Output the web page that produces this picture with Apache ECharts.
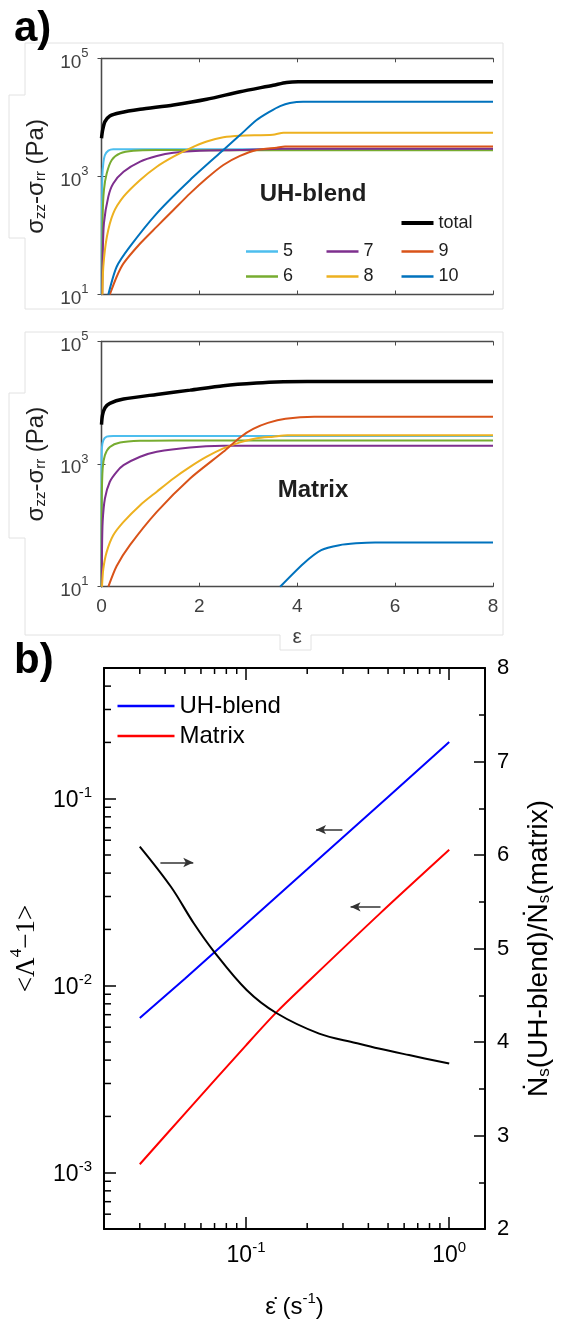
<!DOCTYPE html>
<html><head><meta charset="utf-8">
<script src="https://cdn.jsdelivr.net/npm/echarts@6/dist/echarts.min.js"></script>
<style>html,body{margin:0;padding:0;background:#fff}#c{width:561px;height:1325px}</style>
</head><body><div id="c"></div>
<script>
// ---------- Panel a) top: UH-blend (strain, sigma_zz - sigma_rr in Pa) ----------
const uhS5 = [0, 0.008, 0.017, 0.037, 0.07, 0.14, 0.24, 8];
const uhV5 = [10, 150, 1000, 1660, 2290, 2730, 2880, 2880];
const uhS6 = [0.01, 0.024, 0.05, 0.106, 0.21, 0.38, 0.65, 1.13, 2, 8];
const uhV6 = [10, 210, 590, 1120, 1900, 2460, 2730, 2800, 2780, 2780];
const uhS7 = [0.015, 0.024, 0.05, 0.14, 0.24, 0.45, 0.79, 1.13, 1.47, 2.01, 2.83, 3.7, 8];
const uhV7 = [10, 44, 162, 457, 760, 1200, 1780, 2210, 2510, 2730, 2800, 2950, 2950];
const uhS8 = [0.02, 0.037, 0.11, 0.24, 0.45, 0.79, 1.13, 1.47, 1.81, 2.15, 2.49, 2.83, 3.5, 3.72, 8];
const uhV8 = [10, 29.5, 95, 237, 454, 871, 1460, 2160, 2990, 3890, 4610, 4900, 5050, 5500, 5500];
const uhS9 = [0.17, 0.31, 0.45, 0.79, 1.13, 1.47, 1.81, 2.15, 2.49, 2.83, 3.17, 3.58, 3.75, 8];
const uhV9 = [10, 20, 33.6, 73, 141, 270, 516, 930, 1560, 2220, 2800, 3070, 3200, 3200];
const uhS10 = [0.14, 0.31, 0.58, 1.13, 1.81, 2.49, 2.83, 3.17, 3.44, 3.65, 3.85, 4.12, 8];
const uhV10 = [10, 29.5, 64.6, 237, 871, 2800, 5010, 9000, 12500, 15500, 17500, 18400, 18400];
const uhST = [0, 0.024, 0.07, 0.17, 0.38, 0.79, 1.47, 2.15, 2.83, 3.51, 3.78, 4.02, 8];
const uhVT = [4430, 6120, 8450, 10550, 12000, 13700, 16200, 20200, 27200, 35000, 39000, 40200, 40200];

// ---------- Panel a) bottom: Matrix ----------
const mxS5 = [0, 0.002, 0.008, 0.037, 0.106, 0.24, 8];
const mxV5 = [10, 850, 1820, 2450, 2800, 2870, 2870];
const mxS6 = [0, 0.005, 0.024, 0.07, 0.17, 0.38, 0.79, 1.5, 8];
const mxV6 = [10, 243, 850, 1400, 1900, 2250, 2400, 2430, 2430];
const mxS7 = [0.005, 0.01, 0.024, 0.07, 0.17, 0.31, 0.45, 0.79, 1.13, 1.81, 2.49, 3.2, 8];
const mxV7 = [10, 37, 115, 275, 515, 748, 960, 1320, 1590, 1870, 1990, 2000, 2000];
const mxS8 = [0.01, 0.037, 0.106, 0.24, 0.45, 0.79, 1.13, 1.47, 1.81, 2.15, 2.49, 2.83, 3.17, 3.51, 3.8, 8];
const mxV8 = [10, 19.5, 37, 69, 114, 214, 355, 583, 900, 1320, 1800, 2260, 2630, 2800, 2950, 2950];
const mxS9 = [0.14, 0.31, 0.58, 1.13, 1.81, 2.49, 2.85, 3.1, 3.4, 3.76, 4.35, 8];
const mxV9 = [10, 21.7, 47.5, 166, 583, 1590, 2800, 3750, 4700, 5500, 5920, 5920];
const mxS10 = [3.65, 4.13, 4.49, 4.86, 5.2, 5.59, 8];
const mxV10 = [10, 24, 39.5, 47.6, 51, 52.7, 52.7];
const mxST = [0, 0.02, 0.072, 0.17, 0.45, 1.13, 1.81, 2.49, 3.17, 3.72, 4.2, 8];
const mxVT = [4400, 6300, 8300, 9800, 11500, 13700, 16100, 19000, 21000, 22000, 22300, 22300];

// ---------- Panel b) ----------
const blueX = [0.03, 0.05, 0.1, 0.2, 0.5, 1.0];
const blueY = [0.00672, 0.0109, 0.0214, 0.0419, 0.102, 0.201];
const redX = [0.03, 0.05, 0.1, 0.141, 0.2, 0.45, 1.0];
const redY = [0.00111, 0.00207, 0.0048, 0.0072, 0.0104, 0.024, 0.0533];
const ratioX = [0.03, 0.0427, 0.0553, 0.0694, 0.1007, 0.141, 0.229, 0.347, 0.45, 0.634, 1.0];
const ratioY = [6.09, 5.66, 5.27, 4.97, 4.556, 4.31, 4.09, 3.99, 3.93, 3.86, 3.77];
const arrowFrom = [[0.0379, 0.0456], [0.298, 0.0683], [0.459, 0.0264]];
const arrowTo = [[0.055, 0.0456], [0.221, 0.0683], [0.327, 0.0264]];
const minorTicksX = [0.03,0.04,0.05,0.06,0.07,0.08,0.09,0.2,0.3,0.4,0.5,0.6,0.7,0.8,0.9];
const minorTicksY = [6e-4,7e-4,8e-4,9e-4,0.002,0.003,0.004,0.005,0.006,0.007,0.008,0.009,
                     0.02,0.03,0.04,0.05,0.06,0.07,0.08,0.09,0.2,0.3,0.4];
const bX = [0.02, 1.5];      // x extent of panel b
const bYL = [5e-4, 0.5];     // left y extent
const bYR = [2, 8];          // right y extent

const F = '"Liberation Sans", Arial, Helvetica, sans-serif';
const FS = '"Liberation Serif", "Times New Roman", serif';
const AX = '#4a4a4a', LBL = '#404040', TXT = '#1e1e1e';
const C = {'5':'#4DBEEE','6':'#77AC30','7':'#7E2F8E','8':'#EDB120','9':'#D95319','10':'#0072BD','total':'#000000'};

function pairs(xs, ys){ return xs.map((x,i)=>[x, ys[i]]); }
function pow10(v){
  const e = Math.log10(v), r = Math.round(e);
  if (Math.abs(e - r) > 1e-6) return '';
  return '{b|10}{s|' + r + '}';
}
function aSeries(name, xs, ys, xi, yi){
  const w = name === 'total' ? 3.5 : 2;
  return {type:'line', name, data: pairs(xs, ys), xAxisIndex: xi, yAxisIndex: yi,
    symbol:'none', showSymbol:false, smooth:0.25, silent:true,
    lineStyle:{color:C[name], width:w}, itemStyle:{color:C[name]}, z: name==='total'?4:3};
}

const aLineStyle = {color: AX, width: 1.3};
function aXAxis(grid, pos, labels){
  return {type:'value', gridIndex:grid, position:pos, min:0, max:8, interval:2,
    axisLine:{show:true, onZero:false, lineStyle:aLineStyle},
    axisTick:{show:true, inside:true, length:4, lineStyle:{color:AX, width:1}},
    splitLine:{show:false},
    axisLabel:{show:labels, color:LBL, fontSize:19, fontFamily:F, margin:11},
    name: labels ? 'ε' : '', nameLocation:'middle', nameGap:40,
    nameTextStyle:{fontSize:21, fontFamily:F, color:LBL}};
}
const sigmaName = '{a|σ}{sub|zz}{a|-σ}{sub|rr}{a| (Pa)}';
function aYAxis(grid, pos, labels){
  return {type:'log', logBase:10, gridIndex:grid, position:pos, min:10, max:1e5, interval:2,
    axisLine:{show:true, lineStyle:aLineStyle},
    axisTick:{show:true, inside:true, length:4, lineStyle:{color:AX, width:1}},
    splitLine:{show:false}, minorTick:{show:false},
    axisLabel:{show:labels, formatter:pow10, margin:13,
      rich:{b:{fontSize:19, fontFamily:F, color:LBL, padding:[8,0,0,0]},
            s:{fontSize:13, fontFamily:F, color:LBL, verticalAlign:'top', padding:[2,0,0,0]}}},
    name: labels ? sigmaName : '', nameLocation:'middle', nameRotate:90, nameGap:53,
    nameTextStyle:{fontSize:24, fontFamily:F, color:TXT,
      rich:{a:{fontSize:24, fontFamily:F, color:TXT}, sub:{fontSize:15, fontFamily:F, color:TXT, verticalAlign:'bottom', padding:[6,0,0,0]}}}};
}

const bLine = {color:'#000', width:2};
const bRich = {b:{fontSize:23, fontFamily:F, color:'#000', padding:[4,0,0,0]},
               s:{fontSize:15, fontFamily:F, color:'#000', verticalAlign:'top'}};

const tickSeriesX = {type:'custom', xAxisIndex:4, yAxisIndex:4, silent:true, clip:false, z:6,
  data: minorTicksX.map(v => [v, bYL[0]]),
  renderItem: (params, api) => {
    const v = api.value(0);
    const b = api.coord([v, bYL[0]]), t = api.coord([v, bYL[1]]);
    return {type:'group', children:[
      {type:'line', shape:{x1:b[0], y1:b[1], x2:b[0], y2:b[1]-6}, style:{stroke:'#000', lineWidth:1.5}},
      {type:'line', shape:{x1:t[0], y1:t[1], x2:t[0], y2:t[1]+6}, style:{stroke:'#000', lineWidth:1.5}}]};
  }};
const tickSeriesY = {type:'custom', xAxisIndex:4, yAxisIndex:4, silent:true, clip:false, z:6,
  data: minorTicksY.map(v => [bX[0], v]),
  renderItem: (params, api) => {
    const p = api.coord([bX[0], api.value(1)]);
    return {type:'line', shape:{x1:p[0], y1:p[1], x2:p[0]+7, y2:p[1]}, style:{stroke:'#000', lineWidth:1.5}};
  }};

const legendBase = {orient:'vertical', icon:'rect', itemWidth:32, itemHeight:2.5, itemGap:7,
  selectedMode:false, padding:0, textStyle:{fontSize:18, fontFamily:F, color:TXT, padding:[0,0,0,0]}};

const faint = '#e2e2e2';
function frame(points){
  return {type:'polygon', shape:{points}, style:{fill:null, stroke:faint, lineWidth:1}, z:-1, silent:true};
}
const option = {
  animation:false,
  backgroundColor:'#fff',
  grid:[
    {left:101.5, top:58.3, width:391.5, height:236.2, show:false},
    {left:101.5, top:341.5, width:391.5, height:245.2, show:false},
    {left:102.5, top:668, width:385, height:561, show:false}
  ],
  xAxis:[
    aXAxis(0,'bottom',false), aXAxis(0,'top',false),
    aXAxis(1,'bottom',true), aXAxis(1,'top',false),
    {type:'log', logBase:10, gridIndex:2, position:'bottom', min:bX[0], max:bX[1],
      axisLine:{show:true, onZero:false, lineStyle:bLine},
      axisTick:{show:true, inside:true, length:12, lineStyle:{color:'#000', width:1.5}},
      splitLine:{show:false}, minorTick:{show:false},
      axisLabel:{formatter:pow10, margin:11, rich:bRich},
      name:'{a|ε̇ (s}{s|-1}{a|)}', nameLocation:'middle', nameGap:62,
      nameTextStyle:{fontSize:24, fontFamily:F, color:'#000',
        rich:{a:{fontSize:24, fontFamily:F, color:'#000', padding:[4,0,0,0]}, s:{fontSize:15, fontFamily:F, color:'#000', verticalAlign:'top'}}}},
    {type:'log', logBase:10, gridIndex:2, position:'top', min:bX[0], max:bX[1],
      axisLine:{show:true, onZero:false, lineStyle:bLine},
      axisTick:{show:true, inside:true, length:12, lineStyle:{color:'#000', width:1.5}},
      splitLine:{show:false}, axisLabel:{show:false}}
  ],
  yAxis:[
    aYAxis(0,'left',true), aYAxis(0,'right',false),
    aYAxis(1,'left',true), aYAxis(1,'right',false),
    {type:'log', logBase:10, gridIndex:2, position:'left', min:bYL[0], max:bYL[1],
      axisLine:{show:true, lineStyle:bLine},
      axisTick:{show:true, inside:true, length:12, lineStyle:{color:'#000', width:1.5}},
      splitLine:{show:false}, minorTick:{show:false},
      axisLabel:{formatter:pow10, margin:12, rich:bRich},
      name:'{a|<Λ}{s|4}{a|−1>}', nameLocation:'middle', nameRotate:90, nameGap:64,
      nameTextStyle:{fontSize:27, fontFamily:FS, color:'#000',
        rich:{a:{fontSize:27, fontFamily:FS, color:'#000', padding:[5,0,0,0]}, s:{fontSize:17, fontFamily:FS, color:'#000', verticalAlign:'top'}}}},
    {type:'value', gridIndex:2, position:'right', min:bYR[0], max:bYR[1], interval:1,
      axisLine:{show:true, lineStyle:bLine},
      axisTick:{show:true, inside:true, length:11, lineStyle:{color:'#000', width:1.5}},
      minorTick:{show:true, splitNumber:2, length:6, lineStyle:{color:'#000', width:1.5}},
      splitLine:{show:false},
      axisLabel:{fontSize:22, fontFamily:F, color:'#000', margin:12},
      name:'{a|Ṅ}{s|s}{a|(UH-blend)/Ṅ}{s|s}{a|(matrix)}', nameLocation:'middle', nameRotate:90, nameGap:40,
      nameTextStyle:{fontSize:28, fontFamily:F, color:'#000',
        rich:{a:{fontSize:28, fontFamily:F, color:'#000'}, s:{fontSize:17, fontFamily:F, color:'#000', verticalAlign:'bottom', padding:[9,0,0,0]}}}}
  ],
  legend:[
    Object.assign({}, legendBase, {data:['total'], left:401.5, top:214, itemHeight:4}),
    Object.assign({}, legendBase, {data:['5','6'], left:246, top:242.5}),
    Object.assign({}, legendBase, {data:['7','8'], left:326.5, top:242.5}),
    Object.assign({}, legendBase, {data:['9','10'], left:401.5, top:242.5}),
    Object.assign({}, legendBase, {data:['UH-blend','Matrix'], left:117.5, top:694, itemWidth:57,
      itemHeight:2.5, itemGap:6, textStyle:{fontSize:24, fontFamily:F, color:'#000'}})
  ],
  series:[
    aSeries('5', uhS5, uhV5, 0, 0), aSeries('6', uhS6, uhV6, 0, 0), aSeries('7', uhS7, uhV7, 0, 0),
    aSeries('8', uhS8, uhV8, 0, 0), aSeries('9', uhS9, uhV9, 0, 0), aSeries('10', uhS10, uhV10, 0, 0),
    aSeries('total', uhST, uhVT, 0, 0),
    aSeries('5', mxS5, mxV5, 2, 2), aSeries('6', mxS6, mxV6, 2, 2), aSeries('7', mxS7, mxV7, 2, 2),
    aSeries('8', mxS8, mxV8, 2, 2), aSeries('9', mxS9, mxV9, 2, 2), aSeries('10', mxS10, mxV10, 2, 2),
    aSeries('total', mxST, mxVT, 2, 2),
    {type:'line', name:'UH-blend', data:pairs(blueX, blueY), xAxisIndex:4, yAxisIndex:4,
      symbol:'none', showSymbol:false, silent:true, lineStyle:{color:'#0000FF', width:2}, itemStyle:{color:'#0000FF'},
      markLine:{silent:true, animation:false, symbol:['none','arrow'], symbolSize:[7,10],
        label:{show:false}, emphasis:{disabled:true},
        lineStyle:{color:'#333', width:1.5, type:'solid'},
        data: arrowFrom.map((f,i)=>[{coord:f}, {coord:arrowTo[i]}])}},
    {type:'line', name:'Matrix', data:pairs(redX, redY), xAxisIndex:4, yAxisIndex:4,
      symbol:'none', showSymbol:false, silent:true, smooth:0.3, lineStyle:{color:'#FF0000', width:2}, itemStyle:{color:'#FF0000'}},
    {type:'line', name:'ratio', data:pairs(ratioX, ratioY), xAxisIndex:4, yAxisIndex:5,
      symbol:'none', showSymbol:false, silent:true, smooth:0.35, lineStyle:{color:'#000', width:2}, itemStyle:{color:'#000'}},
    tickSeriesX, tickSeriesY
  ],
  graphic:[
    frame([[25,43],[503,43],[503,309],[25,309],[25,238],[9,238],[9,95],[25,95]]),
    frame([[25,332],[503,332],[503,635],[311,635],[311,650],[280,650],[280,635],[25,635],[25,538],[9,538],[9,393],[25,393]]),
    {type:'text', x:14, y:29, style:{text:'a)', font:'bold 42px ' + F, fill:'#000', verticalAlign:'middle'}},
    {type:'text', x:14, y:661, style:{text:'b)', font:'bold 42px ' + F, fill:'#000', verticalAlign:'middle'}},
    {type:'text', x:313, y:194, style:{text:'UH-blend', font:'bold 24px ' + F, fill:TXT, align:'center', verticalAlign:'middle'}},
    {type:'text', x:313, y:490, style:{text:'Matrix', font:'bold 24px ' + F, fill:TXT, align:'center', verticalAlign:'middle'}}
  ]
};
const chart = echarts.init(document.getElementById('c'), null, {renderer:'canvas'});
chart.setOption(option);
</script></body></html>
